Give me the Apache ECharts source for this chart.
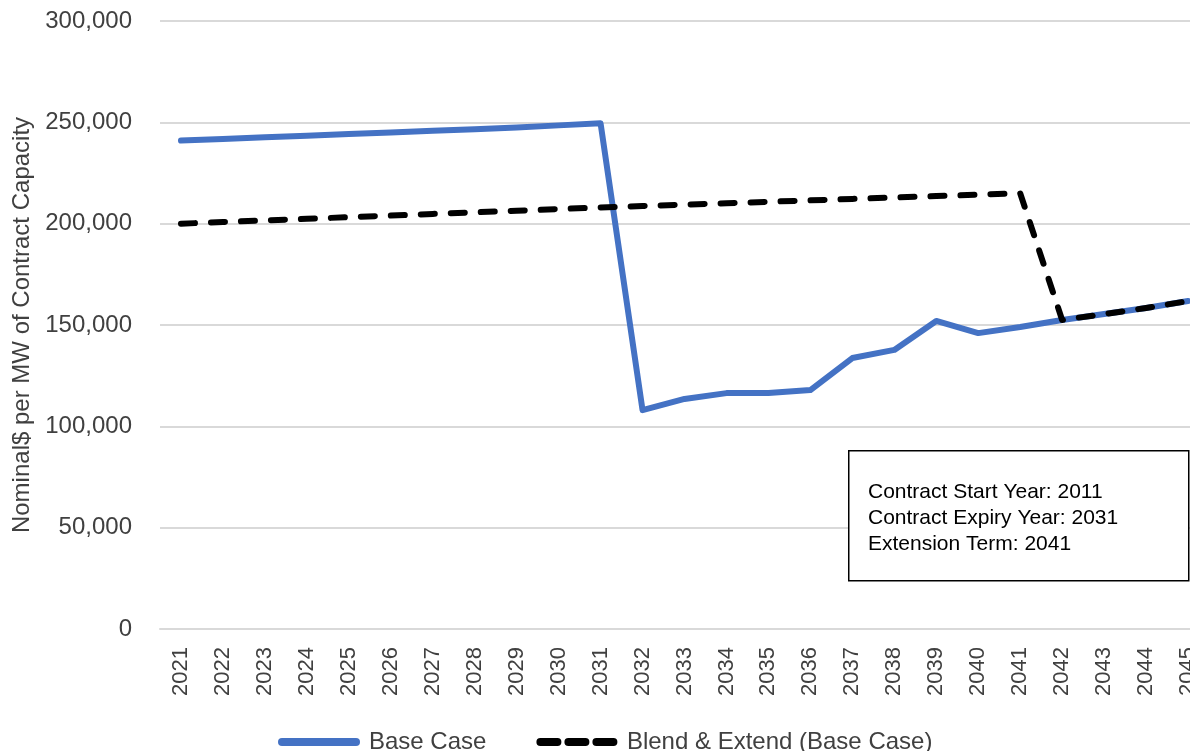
<!DOCTYPE html>
<html>
<head>
<meta charset="utf-8">
<script src="https://cdn.jsdelivr.net/npm/echarts@6/dist/echarts.min.js"></script>
<style>
html,body{margin:0;padding:0;background:#fff;}
#chart{width:1190px;height:751px;}
</style>
</head>
<body>
<div id="chart"></div>
<script>
const years = ['2021','2022','2023','2024','2025','2026','2027','2028','2029','2030','2031','2032','2033','2034','2035','2036','2037','2038','2039','2040','2041','2042','2043','2044','2045'];
const baseCase = [241000,241800,242600,243400,244200,245000,245800,246600,247400,248500,249500,108000,113500,116400,116400,117900,133700,137700,152000,146000,149000,152500,155400,158400,161800];
const blendExtend = [200000,200800,201600,202400,203200,204000,204800,205600,206400,207200,208000,208700,209400,210100,210800,211500,212200,212900,213600,214300,215000,152500,155400,158400,161800];
const yTicks = [0,50000,100000,150000,200000,250000,300000];
const seriesNames = ['Base Case','Blend & Extend (Base Case)'];
const boxLines = ['Contract Start Year: 2011','Contract Expiry Year: 2031','Extension Term: 2041'];

const chart = echarts.init(document.getElementById('chart'));
const font = 'Liberation Sans, Arial, sans-serif';
const pill = 'path://M4,0h74a4,4 0 0 1 0,8h-74a4,4 0 0 1 0,-8z';
const pills = 'path://M4,0h17a4,4 0 0 1 0,8h-17a4,4 0 0 1 0,-8zM32,0h17a4,4 0 0 1 0,8h-17a4,4 0 0 1 0,-8zM60,0h17a4,4 0 0 1 0,8h-17a4,4 0 0 1 0,-8z';
chart.setOption({
  animation:false,
  backgroundColor:'#ffffff',
  grid:{left:160,width:1049,top:21,bottom:122,containLabel:false,outerBoundsMode:'none'},
  xAxis:{
    type:'category',
    data:years,
    boundaryGap:true,
    axisLine:{show:true,lineStyle:{color:'#d9d9d9',width:2}},
    axisTick:{show:false},
    axisLabel:{rotate:90,color:'#404040',fontSize:22,fontFamily:font,margin:18,interval:0}
  },
  yAxis:{
    type:'value',
    min:yTicks[0],max:yTicks[yTicks.length-1],interval:50000,
    name:'Nominal$ per MW of Contract Capacity',
    nameLocation:'middle',nameGap:125,
    nameTextStyle:{color:'#404040',fontSize:24,fontFamily:font},
    axisLine:{show:false},axisTick:{show:false},
    splitLine:{lineStyle:{color:'#d9d9d9',width:2}},
    axisLabel:{color:'#404040',fontSize:24,fontFamily:font,margin:28,
      formatter:v=>v.toLocaleString('en-US')}
  },
  legend:{
    top:730,left:278,padding:0,
    itemWidth:84,itemHeight:8,itemGap:50,
    textStyle:{color:'#404040',fontSize:24,fontFamily:font,padding:[0,0,0,3]},
    data:[
      {name:seriesNames[0],icon:pill,itemStyle:{color:'#4472c4'}},
      {name:seriesNames[1],icon:pills,itemStyle:{color:'#000000'}}
    ]
  },
  series:[
    {name:seriesNames[0],type:'line',data:baseCase,symbol:'none',
     lineStyle:{color:'#4472c4',width:6,cap:'round',join:'round'},itemStyle:{color:'#4472c4'}},
    {name:seriesNames[1],type:'line',data:blendExtend,symbol:'none',
     lineStyle:{color:'#000000',width:6,type:[14,16],cap:'round',join:'round'},itemStyle:{color:'#000000'}}
  ],
  graphic:[
    {type:'rect',left:848,top:450,shape:{width:340,height:130},
     style:{fill:'#ffffff',stroke:'#000000',lineWidth:1.5},z:10},
    {type:'text',left:868,top:479,z:11,
     style:{text:boxLines.join('\n'),fontSize:21,fontFamily:font,fill:'#000000',lineHeight:26}}
  ]
});
</script>
</body>
</html>
